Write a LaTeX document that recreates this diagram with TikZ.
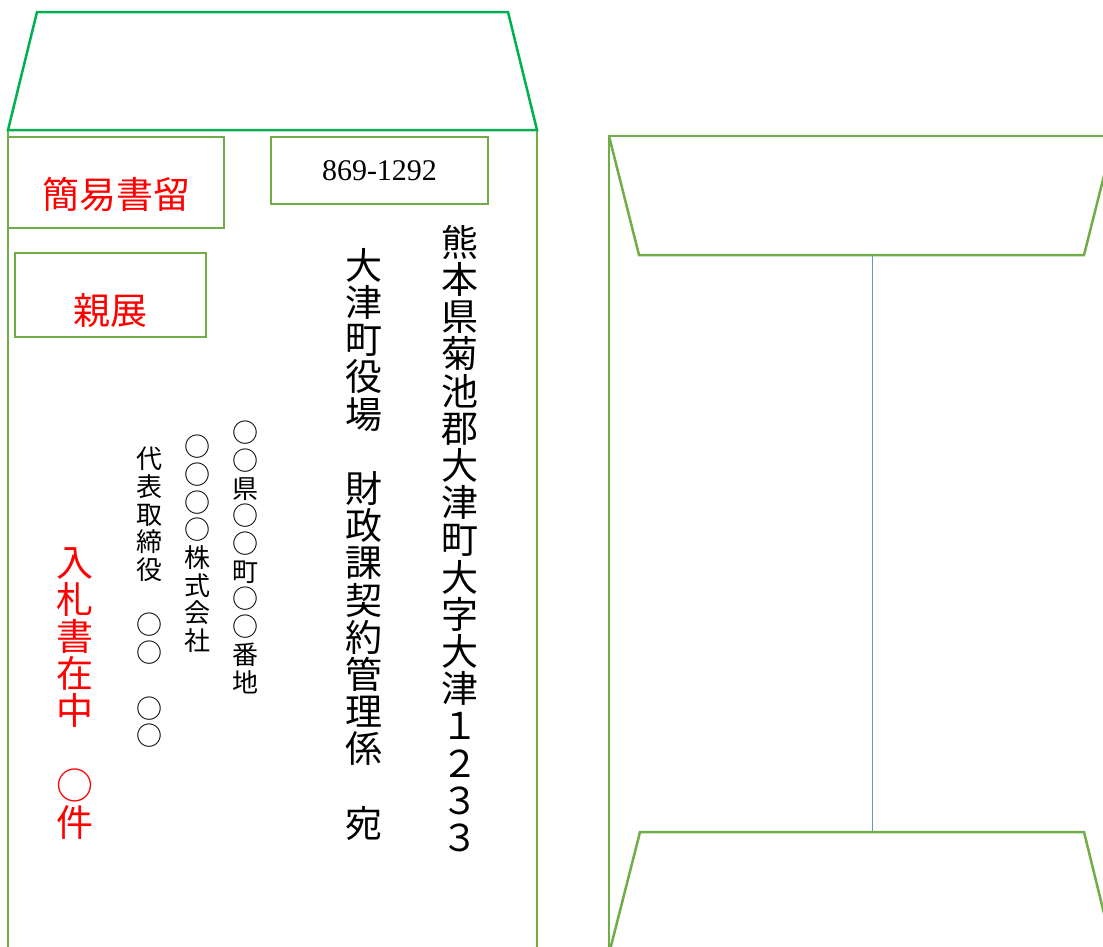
\documentclass[tikz,border=0pt]{standalone}
\usepackage{fontspec}
\newfontfamily\jpfont{Noto Sans CJK JP}
\newfontfamily\zipfont{Liberation Serif}
\usepackage{xcolor}
\definecolor{flapgreen}{HTML}{00B050}
\definecolor{envgreen}{HTML}{70AD47}
\definecolor{foldblue}{HTML}{5B9BD5}
\usetikzlibrary{positioning}

\begin{document}
\begin{tikzpicture}[x=1pt,y=-1pt,
    envline/.style={draw=envgreen, line width=2.5pt, line join=miter},
    markbox/.style={draw=envgreen, line width=2.5pt, rectangle, inner sep=0pt, text=red, font=\jpfont\fontsize{37}{37}\selectfont},
    tate/.style={anchor=north, align=center, inner sep=0pt, font=\jpfont\fontsize{37}{37.2}\selectfont},
    tatesmall/.style={tate, font=\jpfont\fontsize{26}{27.7}\selectfont},
  ]
\useasboundingbox (0,0) rectangle (1103,946);
\clip (0,0) rectangle (1103,946);

% front of the envelope
\draw[envline] (8,960) -- (8,130) -- (537,130) -- (537,960);
\draw[draw=flapgreen, line width=2.5pt] (8,130) -- (37,12) -- (508,12) -- (537,130) -- cycle;

\node[markbox, minimum width=216pt, minimum height=91pt, text height=52pt, text depth=0pt] (kanni) at (116,182.5) {簡易書留};
\node[markbox, minimum width=191pt, minimum height=84pt, text height=59pt, text depth=0pt] (shinten) at (110.5,295) {親展};
\node[markbox, minimum width=217pt, minimum height=67pt, text=black, font=\zipfont\fontsize{30}{30}\selectfont] (zip) at (379.5,170.5) {869-1292};

% addressee
\node[tate] (addr) at (460,225) {熊\\本\\県\\菊\\池\\郡\\大\\津\\町\\大\\字\\大\\津\\１\\２\\３\\３};
\node[tate] (dest) at (364,248) {大\\津\\町\\役\\場\\　\\財\\政\\課\\契\\約\\管\\理\\係\\　\\宛};

% sender
\node[tatesmall] (sendaddr) at (245,421) {○\\○\\県\\○\\○\\町\\○\\○\\番\\地};
\node[tatesmall] (company) at (197,435) {○\\○\\○\\○\\株\\式\\会\\社};
\node[tatesmall] (ceo) at (149,447) {代\\表\\取\\締\\役\\　\\○\\○\\　\\○\\○};
\node[tate, text=red] (enclosed) at (75,547) {入\\札\\書\\在\\中\\　\\○\\件};

% back of the envelope
\draw[envline] (609,960) -- (609,136) -- (1120,136);
\draw[envline] (609,136) -- (639,255) -- (1084,255) -- (1114,136);
\draw[envline] (610,950) -- (640,832) -- (1084,832) -- (1113,950);
\coordinate (foldtop) at (872,255);
\coordinate (foldbot) at (872,832);
\draw[foldblue, line width=1pt] (foldtop) -- (foldbot);
\end{tikzpicture}
\end{document}
